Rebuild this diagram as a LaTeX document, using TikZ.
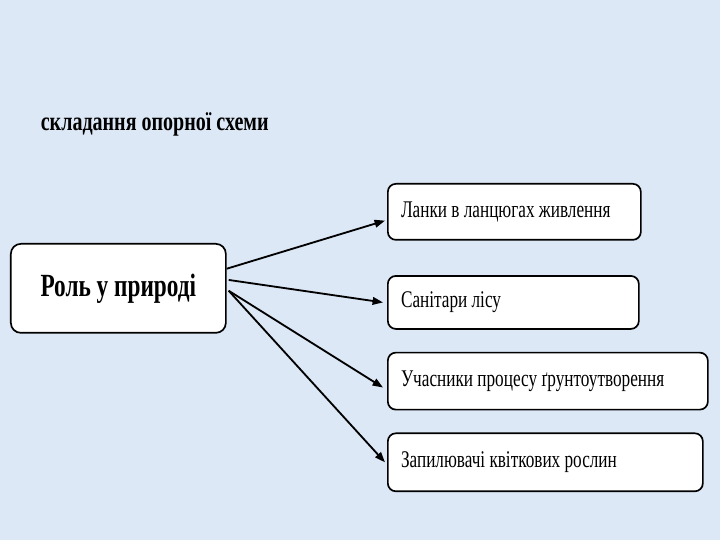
\documentclass[tikz,border=0pt]{standalone}
\usepackage{fontspec}
\setmainfont{Liberation Serif}
\newfontfamily\narrowserif[FakeStretch=0.72]{Liberation Serif}
\newfontfamily\titleserif[FakeStretch=0.75]{Liberation Serif}
\usetikzlibrary{arrows.meta}
\usetikzlibrary{positioning}
\usetikzlibrary{calc}

\definecolor{slideblue}{RGB}{220,232,246}

\begin{document}
\begin{tikzpicture}[line width=1.2pt,>={Triangle[length=2.6mm,width=1.9mm]},
                      node distance=5.5mm,
                      box/.style={draw,fill=white,rounded corners=2mm,anchor=north west,
                                  align=flush left,inner xsep=3.3mm,minimum height=1.4cm,
                                  font=\narrowserif\fontsize{17}{19}\selectfont},
                      bigbox/.style={draw,fill=white,rounded corners=2.5mm,anchor=north west,align=flush center,
                                  font=\narrowserif\bfseries\fontsize{23}{26}\selectfont},
                      title/.style={anchor=west,inner sep=0,
                                  font=\titleserif\bfseries\fontsize{19}{22}\selectfont},
                      link/.style={->,line width=1.3pt},
                      ]
  \fill[slideblue] (0,0) rectangle (18,13.5);
  \useasboundingbox (0,0) rectangle (18,13.5);

  \node[title] (heading) at (1.0,10.4) {складання опорної схеми};

  \node[bigbox,minimum width=5.375cm,minimum height=2.225cm] (role) at (0.25,7.425) {Роль у природі};

  \node[box,text width=5.665cm] (chains) at (9.675,8.925) {Ланки в ланцюгах живлення};
  \node[box,text width=5.615cm,minimum height=1.325cm,below=of chains.south west,anchor=north west,yshift=-3.1mm] (cleaners) {Санітари лісу};
  \node[box,text width=7.34cm,minimum height=1.425cm,below=of cleaners.south west,anchor=north west] (soil) {Учасники процесу ґрунтоутворення};
  \node[box,text width=7.215cm,minimum height=1.45cm,below=of soil.south west,anchor=north west] (pollin) {Запилювачі квіткових рослин};

  \draw[link] ([yshift=4.9mm]role.east) -- ([xshift=-0.5mm,yshift=-2.2mm]chains.west);
  \draw[link] ([xshift=0.5mm,yshift=2.1mm]role.east) -- ([xshift=-1mm]cleaners.west);
  \draw[link] ([xshift=0.5mm,yshift=-0.6mm]role.east) -- ([xshift=-1mm,yshift=-1.6mm]soil.west);
  \draw[link] ([xshift=0.5mm,yshift=-0.6mm]role.east) -- ([xshift=-0.5mm]pollin.west);
\end{tikzpicture}
\end{document}
